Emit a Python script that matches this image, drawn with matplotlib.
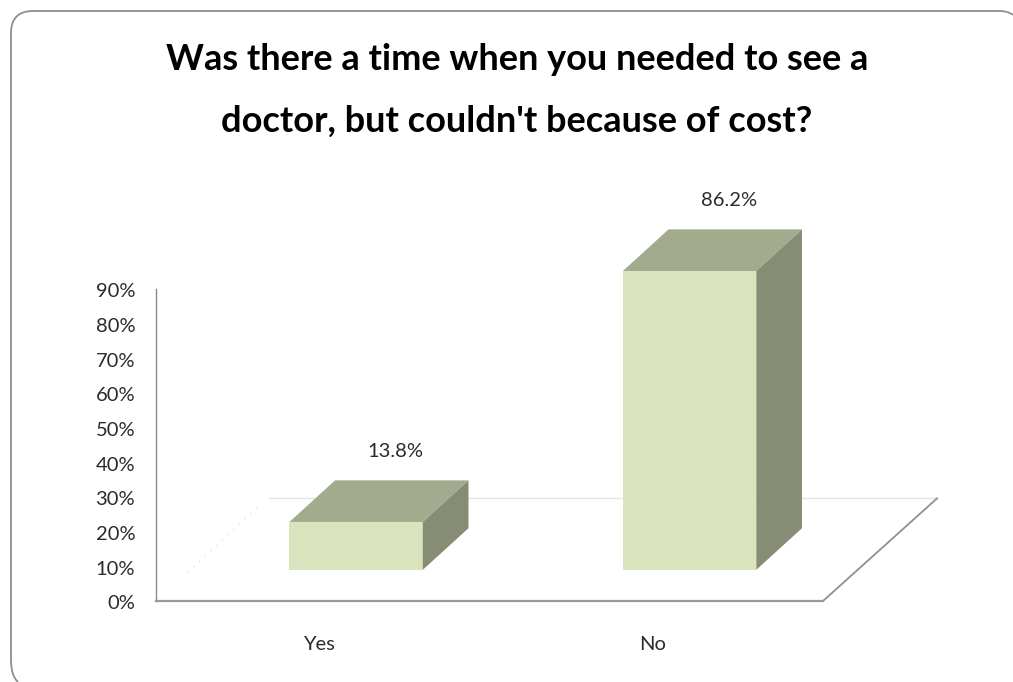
import matplotlib
matplotlib.use("Agg")
import matplotlib.pyplot as plt
from matplotlib.patches import Polygon, PathPatch
from matplotlib.path import Path
from matplotlib.transforms import ScaledTranslation

categories = ["Yes", "No"]
values = [13.8, 86.2]
value_labels = ["13.8%", "86.2%"]
y_ticks = [0, 10, 20, 30, 40, 50, 60, 70, 80, 90]

W, H = 1013, 682
FRONT, TOP, SIDE = "#d9e4bf", "#a3ab8e", "#878d75"
AXIS = "#9a9a9a"
TXT = "#2b2b2b"
BAR_W = 0.40
DX, DY = 0.137, 12.0      # depth offset in axis units
BASE = 9.0                # bar base raised above the axis by the 3-D floor
LABEL_SHIFT = 0.11        # category labels sit left of the bars, under the front floor edge

plt.rcParams["font.family"] = ["Lato", "DejaVu Sans"]
fig = plt.figure(figsize=(W / 100, H / 100), dpi=100, facecolor="white")

# outer rounded frame, in pixel coordinates
bg = fig.add_axes([0, 0, 1, 1])
bg.set_xlim(0, W); bg.set_ylim(H, 0); bg.axis("off")
frame = Path(
    [(18, 682), (11, 676), (11, 660), (11, 33), (11, 11), (33, 11), (1000, 11), (1008, 11), (1013, 15)],
    [Path.MOVETO, Path.CURVE3, Path.CURVE3, Path.LINETO, Path.CURVE3, Path.CURVE3, Path.LINETO, Path.CURVE3, Path.CURVE3],
)
bg.add_patch(PathPatch(frame, fc="none", ec="#8f8f8f", lw=1.3))

L, R, T, B = 156, 823, 289, 601
ax = fig.add_axes([L / W, 1 - B / H, (R - L) / W, (B - T) / H])
ax.patch.set_alpha(0)
ax.set_xlim(-0.6, 1.4)
ax.set_ylim(0, 90)
for s in ("top", "right"):
    ax.spines[s].set_visible(False)
ax.spines["left"].set(color="#8a8a8a", lw=1.0)
ax.spines["bottom"].set(color=AXIS, lw=1.6)
ax.set_yticks(y_ticks)
ax.set_yticklabels([f"{t}%" for t in y_ticks], fontsize=14.5, color=TXT)
ax.set_xticks([i - LABEL_SHIFT for i in range(len(categories))])
ax.set_xticklabels(categories, fontsize=14.5, color=TXT)
ax.tick_params(axis="both", length=0)
ax.tick_params(axis="y", pad=15)
ax.tick_params(axis="x", pad=25)
for lab in ax.get_yticklabels():
    lab.set_transform(lab.get_transform() + ScaledTranslation(0, -1 / 72, fig.dpi_scale_trans))

# 3-D floor
ax.plot([1.4, 1.4 + 0.342], [0, 29.6], color="#8f8f8f", lw=1.3, clip_on=False)
ax.plot([-0.26, 1.4 + 0.342], [29.6, 29.6], color="#e4e4e4", lw=1.0, clip_on=False, zorder=1)
ax.plot([-0.6 + 0.095, -0.29], [8.3, 27.5], color="#d8d8d8", lw=0.8, ls=(0, (1, 6)), clip_on=False, zorder=1)

# bars
for i, v in enumerate(values):
    x0, x1 = i - BAR_W / 2, i + BAR_W / 2
    y0, y1 = BASE, BASE + v
    ax.add_patch(Polygon([(x0, y0), (x1, y0), (x1, y1), (x0, y1)], fc=FRONT, ec="none", zorder=3, clip_on=False))
    ax.add_patch(Polygon([(x0, y1), (x1, y1), (x1 + DX, y1 + DY), (x0 + DX, y1 + DY)], fc=TOP, ec="none", zorder=3, clip_on=False))
    ax.add_patch(Polygon([(x1, y0), (x1 + DX, y0 + DY), (x1 + DX, y1 + DY), (x1, y1)], fc=SIDE, ec="none", zorder=3, clip_on=False))
    ax.annotate(value_labels[i], (i + 0.117, y1 + DY), xytext=(0, 15), textcoords="offset points",
                ha="center", va="bottom", fontsize=14.5, color=TXT, annotation_clip=False)

fig.text(517 / W, 1 - 60 / H, "Was there a time when you needed to see a", fontsize=26,
         fontweight="bold", color="black", ha="center", va="center")
fig.text(517 / W, 1 - 121 / H, "doctor, but couldn't because of cost?", fontsize=26,
         fontweight="bold", color="black", ha="center", va="center")

fig.savefig("out.png", dpi=100)
